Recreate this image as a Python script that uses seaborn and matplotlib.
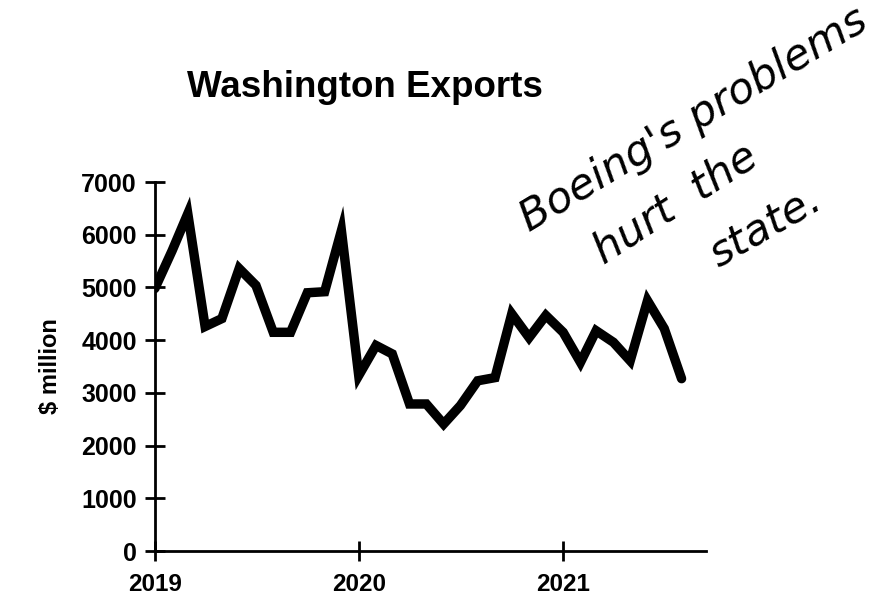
import matplotlib
matplotlib.use("Agg")
import matplotlib.pyplot as plt
import pandas as pd
import seaborn as sns

# monthly exports, Jan 2019 .. Aug 2021, $ million
months = pd.date_range("2019-01-01", "2021-08-01", freq="MS")
exports = [4980, 5700, 6400, 4260, 4410, 5360, 5040, 4150, 4150, 4900, 4920, 6080,
           3330, 3900, 3740, 2790, 2790, 2410, 2760, 3230, 3290, 4500, 4050, 4470,
           4150, 3580, 4180, 3960, 3610, 4750, 4220, 3270]
year_ticks = ["2019", "2020", "2021"]
y_ticks = [0, 1000, 2000, 3000, 4000, 5000, 6000, 7000]

sns.set_style("white")
plt.rcParams["font.family"] = ["Liberation Sans", "DejaVu Sans"]
plt.rcParams["text.color"] = "black"

df = pd.DataFrame({"month": months, "exports": exports})

fig = plt.figure(figsize=(8.95, 5.97), dpi=100)
ax = fig.add_axes([0.173, 0.077, 0.616, 0.618])

sns.lineplot(data=df, x="month", y="exports", ax=ax, color="black",
             linewidth=6.8, solid_joinstyle="miter")

ax.set_ylim(0, 7000)
ax.set_xlim(pd.Timestamp("2019-01-01"), pd.Timestamp("2021-09-14"))
ax.set_yticks(y_ticks)
ax.set_yticklabels([str(v) for v in y_ticks], fontsize=18, fontweight="bold", color="black")
ax.set_xticks([pd.Timestamp(y + "-01-01") for y in year_ticks])
ax.set_xticklabels(year_ticks, fontsize=17.5, fontweight="bold", color="black")
ax.tick_params(axis="both", direction="inout", length=14, width=2, color="black",
               left=True, bottom=True)
ax.tick_params(axis="y", pad=6)
ax.tick_params(axis="x", pad=9)

for side in ["top", "right"]:
    ax.spines[side].set_visible(False)
for side in ["left", "bottom"]:
    ax.spines[side].set_color("black")
    ax.spines[side].set_linewidth(2)

ax.set_xlabel("")
ax.set_ylabel("$ million", fontsize=17, fontweight="bold", labelpad=14, color="black")

fig.text(0.408, 0.853, "Washington Exports", ha="center", va="center",
         fontsize=26.5, fontweight="bold")

# handwritten note
note = dict(fontsize=31, style="italic", ha="left", va="baseline",
            rotation_mode="anchor", family=["DejaVu Sans"], fontweight="light")
fig.text(0.592, 0.611, "Boeing's problems", rotation=31, **note)
fig.text(0.674, 0.556, "hurt  the", rotation=33, **note)
fig.text(0.802, 0.551, "state.", rotation=30, **note)

fig.savefig("out.png", dpi=100)
